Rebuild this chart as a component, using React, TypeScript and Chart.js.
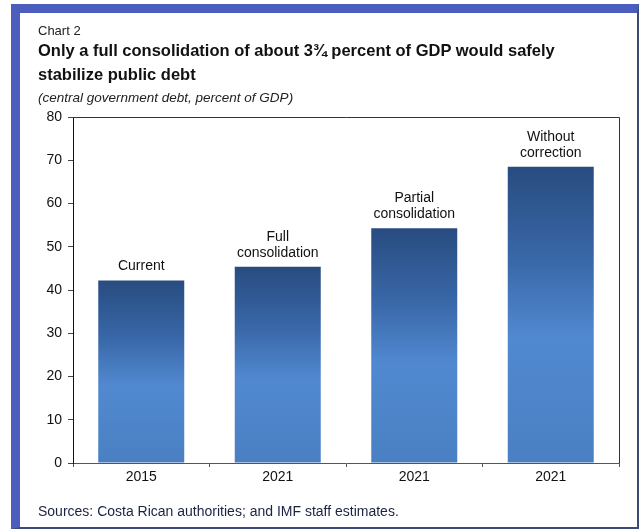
import React, { useEffect, useRef } from "react";
import { Chart, registerables } from "chart.js";

Chart.register(...registerables);

const categories = ["2015", "2021", "2021", "2021"];
const debtValues = [42.2, 45.4, 54.3, 68.5];
const barLabels = [["Current"], ["Full", "consolidation"], ["Partial", "consolidation"], ["Without", "correction"]];
const yTicks = [0, 10, 20, 30, 40, 50, 60, 70, 80];

const FONT = "'Liberation Sans', Arial, sans-serif";

export default function App() {
  const canvasRef = useRef<HTMLCanvasElement | null>(null);

  useEffect(() => {
    const canvas = canvasRef.current;
    if (!canvas) return;

    const boxAndLabels = {
      id: "boxAndLabels",
      afterDatasetsDraw(chart: any) {
        const { ctx, chartArea } = chart;
        ctx.save();
        ctx.strokeStyle = "#333";
        ctx.lineWidth = 1;
        ctx.beginPath();
        ctx.moveTo(chartArea.left, chartArea.top + 0.5);
        ctx.lineTo(chartArea.right + 0.5, chartArea.top + 0.5);
        ctx.lineTo(chartArea.right + 0.5, chartArea.bottom);
        ctx.stroke();
        const meta = chart.getDatasetMeta(0);
        ctx.fillStyle = "#111";
        ctx.font = `14px ${FONT}`;
        ctx.textAlign = "center";
        ctx.textBaseline = "alphabetic";
        meta.data.forEach((el: any, i: number) => {
          const lines = barLabels[i];
          const lh = 16;
          lines.forEach((line, j) => {
            const y = el.y - 10 - (lines.length - 1 - j) * lh;
            ctx.fillText(line, el.x, y);
          });
        });
        ctx.restore();
      },
    };

    const chart = new Chart(canvas, {
      type: "bar",
      data: {
        labels: categories,
        datasets: [
          {
            data: debtValues,
            barPercentage: 0.7,
            categoryPercentage: 0.9,
            borderWidth: 0,
            backgroundColor: (c: any) => {
              const ch = c.chart;
              if (!ch.chartArea || c.type !== "data") return "#4a80c4";
              const yS = ch.scales.y;
              const top = yS.getPixelForValue(debtValues[c.dataIndex]);
              const base = yS.getPixelForValue(0);
              const g = ch.ctx.createLinearGradient(0, top, 0, base);
              g.addColorStop(0, "#284c80");
              g.addColorStop(0.3, "#3866a6");
              g.addColorStop(0.58, "#5189d1");
              g.addColorStop(1, "#4a80c2");
              return g;
            },
          },
        ],
      },
      options: {
        animation: false,
        responsive: false,
        maintainAspectRatio: false,
        layout: { padding: { left: 0, top: 117, right: 21, bottom: 36 } },
        plugins: {
          legend: { display: false },
          tooltip: { enabled: false },
          title: { display: false },
        },
        scales: {
          x: {
            grid: { offset: true, drawOnChartArea: false, tickLength: 4, color: "#555" },
            border: { color: "#555", width: 1 },
            ticks: { font: { family: FONT, size: 14 }, color: "#111", padding: 2 },
            afterFit: (s: any) => {
              s.height = 30;
            },
          },
          y: {
            min: 0,
            max: 80,
            afterBuildTicks: (s: any) => {
              s.ticks = yTicks.map((v) => ({ value: v }));
            },
            grid: { drawOnChartArea: false, tickLength: 5, color: "#444" },
            border: { color: "#111", width: 1 },
            ticks: { font: { family: FONT, size: 14 }, color: "#111", padding: 6 },
            afterFit: (s: any) => {
              s.width = 73;
            },
          },
        },
      },
      plugins: [boxAndLabels],
    });

    return () => chart.destroy();
  }, []);

  const text = (top: number, size: number, extra: React.CSSProperties, content: string, lh = 16) => (
    <div
      style={{
        position: "absolute",
        left: 38,
        top,
        fontFamily: FONT,
        fontSize: size,
        lineHeight: `${lh}px`,
        whiteSpace: "nowrap",
        ...extra,
      }}
    >
      {content}
    </div>
  );

  return (
    <div style={{ position: "fixed", left: 0, top: 0, width: 640, height: 529, background: "#fff", overflow: "hidden" }}>
      <div
        style={{
          position: "absolute",
          left: 11,
          top: 4,
          width: 628 - 9 - 2,
          height: 525 - 9 - 2,
          borderLeft: "9px solid #4b5dbd",
          borderTop: "9px solid #4b5dbd",
          borderRight: "2px solid #3b4b75",
          borderBottom: "2px solid #3b4b75",
          background: "#fff",
        }}
      />
      <canvas ref={canvasRef} width={640} height={529} style={{ position: "absolute", left: 0, top: 0 }} />
      {text(23, 13, { color: "#222" }, "Chart 2")}
      <div
        style={{
          position: "absolute",
          left: 38,
          top: 38,
          fontFamily: FONT,
          fontSize: 16.5,
          fontWeight: "bold",
          lineHeight: "24px",
          color: "#111",
          whiteSpace: "nowrap",
        }}
      >
        Only a full consolidation of about 3¾ percent of GDP would safely
        <br />
        stabilize public debt
      </div>
      {text(90, 13.5, { fontStyle: "italic", color: "#222" }, "(central government debt, percent of GDP)")}
      {text(503, 14, { color: "#1a2340" }, "Sources: Costa Rican authorities; and IMF staff estimates.")}
    </div>
  );
}
